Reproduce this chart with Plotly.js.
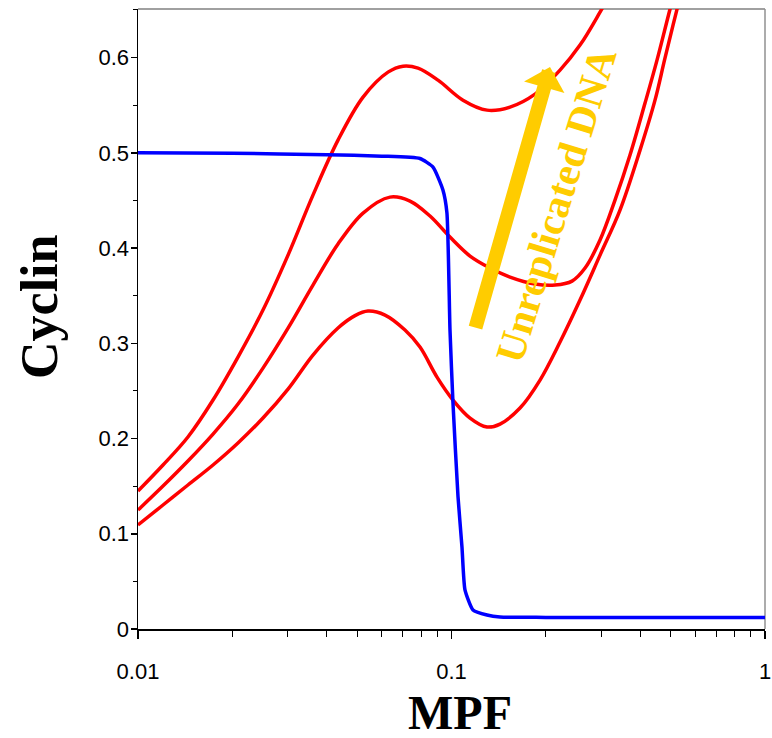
<!DOCTYPE html>
<html>
<head>
<meta charset="utf-8">
<script src="https://cdn.plot.ly/plotly-3.0.1.min.js"></script>
<style>html,body{margin:0;padding:0;background:#fff;}#chart{width:772px;height:738px;}</style>
</head>
<body>
<div id="chart"></div>
<script>
// MPF (x, log scale) and Cyclin (y) values
const blueMPF = [0.01, 0.02, 0.04, 0.06, 0.0793, 0.0873, 0.0939, 0.0967, 0.0989, 0.1011, 0.1049, 0.1080, 0.1104, 0.1171, 0.1298, 0.1428, 0.2, 0.5, 1];
const blueCyclin = [0.5, 0.4995, 0.498, 0.4965, 0.494, 0.485, 0.461, 0.437, 0.314, 0.237, 0.139, 0.086, 0.041, 0.020, 0.0147, 0.0126, 0.0122, 0.012, 0.012];

const upperMPF = [0.01, 0.012015, 0.01443, 0.01735, 0.02084, 0.02504, 0.0301, 0.03615, 0.04345, 0.05222, 0.06272, 0.07003, 0.07818, 0.09056, 0.1088, 0.1298, 0.1537, 0.1847, 0.2219, 0.257, 0.2977, 0.3323];
const upperCyclin = [0.1449, 0.1722, 0.2016, 0.2404, 0.2855, 0.3349, 0.3926, 0.4556, 0.5133, 0.5585, 0.5847, 0.5910, 0.5889, 0.5763, 0.5553, 0.5448, 0.5480, 0.5616, 0.5868, 0.6131, 0.6477, 0.6760];

const middleMPF = [0.01, 0.012015, 0.01443, 0.01735, 0.02084, 0.02504, 0.0301, 0.03615, 0.04345, 0.05222, 0.06365, 0.07373, 0.0854, 0.0989, 0.1146, 0.1327, 0.1537, 0.1847, 0.2138, 0.2424, 0.2667, 0.2977, 0.3323, 0.3710, 0.4143, 0.4524, 0.4977, 0.5475];
const middleCyclin = [0.1249, 0.1501, 0.1764, 0.2047, 0.2362, 0.2739, 0.3159, 0.3611, 0.4042, 0.4367, 0.4535, 0.4493, 0.4336, 0.4115, 0.3916, 0.3790, 0.3695, 0.3622, 0.3611, 0.3653, 0.3790, 0.4084, 0.4503, 0.4976, 0.5522, 0.5973, 0.6508, 0.7023];

const lowerMPF = [0.01, 0.012015, 0.01443, 0.01735, 0.02084, 0.02504, 0.0301, 0.03615, 0.04345, 0.04923, 0.05416, 0.06136, 0.07107, 0.07934, 0.08989, 0.1011, 0.1146, 0.1298, 0.1428, 0.1654, 0.1916, 0.2219, 0.257, 0.2977, 0.3447, 0.3994, 0.4458, 0.4797, 0.5241, 0.5766];
const lowerCyclin = [0.1092, 0.1302, 0.1512, 0.1722, 0.1953, 0.2215, 0.2519, 0.2876, 0.3160, 0.3290, 0.3338, 0.3296, 0.3139, 0.2960, 0.2645, 0.2404, 0.2215, 0.2121, 0.2152, 0.2320, 0.2614, 0.3013, 0.3454, 0.3926, 0.4398, 0.5028, 0.5553, 0.5994, 0.6508, 0.7023];

const xTickVals = [0.01, 0.1, 1];
const xTickText = ['0.01', '0.1', '1'];
const xMinorVals = [0.02,0.03,0.04,0.05,0.06,0.07,0.08,0.09,0.2,0.3,0.4,0.5,0.6,0.7,0.8,0.9];
const yTickVals = [0, 0.1, 0.2, 0.3, 0.4, 0.5, 0.6];
const yTickText = ['0', '0.1', '0.2', '0.3', '0.4', '0.5', '0.6'];

const arrowLabel = 'Unreplicated DNA';
const xTitle = 'MPF';
const yTitle = 'Cyclin';

const redLine = {color: '#ff0000', width: 3.5, shape: 'spline', smoothing: 1};
const traces = [
  {x: upperMPF, y: upperCyclin, mode: 'lines', line: redLine, hoverinfo: 'skip'},
  {x: middleMPF, y: middleCyclin, mode: 'lines', line: redLine, hoverinfo: 'skip'},
  {x: lowerMPF, y: lowerCyclin, mode: 'lines', line: redLine, hoverinfo: 'skip'},
  {x: blueMPF, y: blueCyclin, mode: 'lines', line: {color: '#0000ff', width: 3.5, shape: 'spline', smoothing: 0.5}, hoverinfo: 'skip'}
];

const tickFont = {family: 'Liberation Sans, Arial, sans-serif', size: 22, color: '#000'};
const titleFont = {family: 'Liberation Serif, Times New Roman, serif', color: '#000', weight: 'bold'};

const layout = {
  width: 772, height: 738,
  margin: {l: 138, r: 7, t: 9, b: 109},
  paper_bgcolor: '#fff', plot_bgcolor: '#fff',
  showlegend: false,
  xaxis: {
    type: 'log', range: [-2, 0],
    tickmode: 'array', tickvals: xTickVals, ticktext: xTickText,
    ticks: 'outside', ticklen: 8, tickwidth: 1.5, tickcolor: '#000',
    showline: true, linecolor: '#000', linewidth: 1.5,
    showgrid: false, zeroline: false,
    tickfont: tickFont, ticklabelstandoff: 14,
    minor: {tickmode: 'array', tickvals: xMinorVals, ticks: 'outside', ticklen: 6, tickwidth: 1, tickcolor: '#000', showgrid: false}
  },
  yaxis: {
    range: [0, 0.651],
    tickmode: 'array', tickvals: yTickVals, ticktext: yTickText,
    ticks: 'outside', ticklen: 6, tickwidth: 1.5, tickcolor: '#000',
    showline: true, linecolor: '#000', linewidth: 1.5,
    showgrid: false, zeroline: false,
    tickfont: tickFont, ticklabelstandoff: -3,
    minor: {dtick: 0.05, ticks: 'outside', ticklen: 4, tickwidth: 1, tickcolor: '#000', showgrid: false}
  },
  shapes: [
    {type: 'line', xref: 'paper', yref: 'paper', x0: 0, x1: 1, y0: 1, y1: 1, line: {color: '#a0a0a0', width: 2}, layer: 'below'},
    {type: 'line', xref: 'paper', yref: 'paper', x0: 1, x1: 1, y0: 0, y1: 1, line: {color: '#909090', width: 1.5}, layer: 'below'}
  ],
  annotations: [
    {xref: 'x', yref: 'y', axref: 'x', ayref: 'y',
     x: Math.log10(0.2062), y: 0.590, ax: Math.log10(0.1189), ay: 0.3149,
     text: '', showarrow: true, arrowcolor: '#ffcc00', arrowwidth: 14, arrowhead: 1, arrowsize: 0.5, standoff: 0, startstandoff: 0},
    {xref: 'x', yref: 'y', x: Math.log10(0.2155), y: 0.445, text: arrowLabel, showarrow: false, textangle: -73,
     font: {family: 'Liberation Serif, Times New Roman, serif', size: 41, color: '#ffcc00', weight: 'bold'}},
    {xref: 'paper', yref: 'paper', x: -0.1563, y: 0.521, text: yTitle, showarrow: false, textangle: -90,
     xanchor: 'center', yanchor: 'middle', font: Object.assign({size: 52}, titleFont)},
    {xref: 'paper', yref: 'paper', x: 0.5136, y: -0.135, text: xTitle, showarrow: false,
     xanchor: 'center', yanchor: 'middle', font: Object.assign({size: 48}, titleFont)}
  ]
};

Plotly.newPlot('chart', traces, layout, {staticPlot: true, displayModeBar: false});
</script>
</body>
</html>
